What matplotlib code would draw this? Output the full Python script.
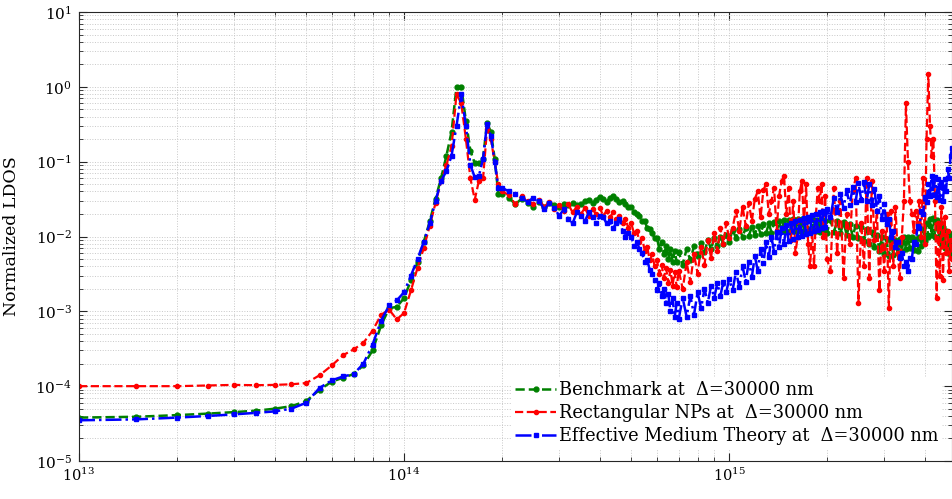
import matplotlib
matplotlib.use("Agg")
import matplotlib.pyplot as plt
import numpy as np

plt.rcParams['font.family'] = ['DejaVu Serif']
plt.rcParams['mathtext.fontset'] = 'custom'
plt.rcParams['mathtext.rm'] = 'DejaVu Serif'

# ---------------- data (frequency [rad/s], normalized LDOS) ----------------
freq_a = [1.0e13, 1.5e13, 2.0e13, 2.5e13, 3.0e13, 3.5e13, 4.0e13, 4.5e13, 5.0e13, 5.5e13,
          6.0e13, 6.5e13, 7.0e13, 7.5e13, 8.0e13, 8.5e13, 9.0e13, 9.5e13, 1.0e14, 1.05e14,
          1.1e14, 1.15e14, 1.2e14, 1.25e14, 1.3e14, 1.35e14, 1.4e14, 1.45e14, 1.5e14, 1.55e14,
          1.6e14, 1.65e14, 1.7e14, 1.75e14, 1.8e14, 1.85e14, 1.9e14, 1.95e14, 2.0e14]
bench_a = [3.8e-5, 3.9e-5, 4.1e-5, 4.3e-5, 4.5e-5, 4.7e-5, 5.0e-5, 5.4e-5, 6.3e-5, 9.0e-5,
           1.15e-4, 1.3e-4, 1.45e-4, 1.9e-4, 3.0e-4, 6.5e-4, 1.1e-3, 1.15e-3, 1.5e-3, 2.6e-3,
           4.5e-3, 8.5e-3, 1.6e-2, 3.2e-2, 6.0e-2, 0.12, 0.25, 1.0, 1.0, 0.35,
           0.14, 0.095, 0.095, 0.11, 0.33, 0.25, 0.11, 0.037, 0.037]
rect_a = [1.0e-4, 1.0e-4, 1.0e-4, 1.02e-4, 1.04e-4, 1.03e-4, 1.04e-4, 1.06e-4, 1.1e-4, 1.4e-4,
          1.9e-4, 2.6e-4, 3.1e-4, 3.8e-4, 5.5e-4, 9.0e-4, 1.05e-3, 7.8e-4, 9.5e-4, 1.9e-3,
          3.8e-3, 7.0e-3, 1.4e-2, 2.8e-2, 5.5e-2, 9.0e-2, 0.16, 0.8, 0.6, 0.2,
          0.06, 0.031, 0.056, 0.06, 0.27, 0.2, 0.1, 0.05, 0.04]
emt_a = [3.5e-5, 3.6e-5, 3.8e-5, 4.0e-5, 4.2e-5, 4.4e-5, 4.6e-5, 5.0e-5, 6.0e-5, 9.5e-5,
         1.2e-4, 1.35e-4, 1.45e-4, 2.0e-4, 3.6e-4, 7.5e-4, 1.2e-3, 1.4e-3, 1.8e-3, 3.0e-3,
         5.0e-3, 8.5e-3, 1.5e-2, 3.0e-2, 5.5e-2, 7.5e-2, 0.12, 0.3, 0.8, 0.3,
         0.09, 0.062, 0.065, 0.11, 0.32, 0.22, 0.1, 0.045, 0.045]

freq_b = [2.1e14, 2.2e14, 2.3e14, 2.4e14, 2.5e14, 2.6e14, 2.7e14, 2.8e14, 2.9e14, 3.0e14,
          3.1e14, 3.2e14, 3.3e14, 3.4e14, 3.5e14, 3.6e14, 3.7e14, 3.8e14, 3.9e14, 4.0e14,
          4.1e14, 4.2e14, 4.3e14, 4.4e14, 4.5e14, 4.6e14, 4.7e14, 4.8e14, 4.9e14, 5.0e14,
          5.1e14, 5.2e14, 5.3e14, 5.4e14, 5.5e14, 5.6e14, 5.7e14, 5.8e14, 5.9e14, 6.0e14,
          6.1e14, 6.2e14, 6.3e14, 6.4e14, 6.5e14, 6.6e14, 6.7e14, 6.8e14, 6.9e14, 7.0e14]
bench_b = [0.033, 0.027, 0.032, 0.028, 0.025, 0.029, 0.025, 0.028, 0.026, 0.025,
           0.027, 0.026, 0.028, 0.026, 0.027, 0.030, 0.031, 0.028, 0.031, 0.034,
           0.032, 0.029, 0.033, 0.035, 0.032, 0.029, 0.030, 0.027, 0.025, 0.025,
           0.021, 0.020, 0.019, 0.016, 0.016, 0.013, 0.0125, 0.011, 0.0095, 0.0095,
           0.0068, 0.0085, 0.0058, 0.0075, 0.0050, 0.0068, 0.0046, 0.0065, 0.0045, 0.0062]
rect_b = [0.036, 0.027, 0.035, 0.030, 0.027, 0.031, 0.025, 0.029, 0.023, 0.026,
          0.022, 0.027, 0.021, 0.025, 0.020, 0.024, 0.019, 0.023, 0.020, 0.024,
          0.019, 0.022, 0.018, 0.021, 0.017, 0.019, 0.015, 0.017, 0.013, 0.015,
          0.011, 0.012, 0.0085, 0.0095, 0.0065, 0.0072, 0.0048, 0.0058, 0.0040, 0.0048,
          0.0032, 0.0042, 0.0028, 0.0038, 0.0024, 0.0036, 0.0022, 0.0034, 0.0021, 0.0035]
emt_b = [0.040, 0.037, 0.033, 0.029, 0.033, 0.030, 0.023, 0.028, 0.024, 0.019,
         0.023, 0.017, 0.015, 0.021, 0.019, 0.016, 0.021, 0.018, 0.015, 0.019,
         0.018, 0.015, 0.016, 0.013, 0.015, 0.017, 0.012, 0.010, 0.011, 0.010,
         0.0075, 0.0085, 0.0068, 0.0060, 0.0045, 0.0048, 0.0036, 0.0032, 0.0026, 0.0019,
         0.0024, 0.0016, 0.0020, 0.0013, 0.0017, 0.0010, 0.0015, 0.00085, 0.0013, 0.0008]

freq_c = [7.2e14, 7.4e14, 7.6e14, 7.8e14, 8.0e14, 8.2e14, 8.4e14, 8.6e14, 8.8e14, 9.0e14,
          9.2e14, 9.4e14, 9.6e14, 9.8e14, 1.0e15]
bench_c = [0.0042, 0.0068, 0.0048, 0.0075, 0.0055, 0.0082, 0.0062, 0.0090, 0.0068, 0.0095,
           0.0075, 0.0100, 0.0080, 0.0105, 0.0085]
rect_c = [0.0020, 0.0045, 0.0025, 0.0058, 0.0032, 0.0072, 0.0042, 0.0090, 0.0052, 0.011,
          0.0065, 0.013, 0.0080, 0.015, 0.0095]
emt_c = [0.0015, 0.00085, 0.0016, 0.0009, 0.0018, 0.0011, 0.0020, 0.0013, 0.0022, 0.0015,
         0.0024, 0.0016, 0.0025, 0.0018, 0.0027]

freq_d = [1.025e15, 1.05e15, 1.075e15, 1.1e15, 1.125e15, 1.15e15, 1.175e15, 1.2e15, 1.225e15, 1.25e15,
          1.275e15, 1.3e15, 1.325e15, 1.35e15, 1.375e15, 1.4e15, 1.425e15, 1.45e15, 1.475e15, 1.5e15,
          1.525e15, 1.55e15, 1.575e15, 1.6e15, 1.625e15, 1.65e15, 1.675e15, 1.7e15, 1.725e15, 1.75e15,
          1.775e15, 1.8e15, 1.825e15, 1.85e15, 1.875e15, 1.9e15, 1.925e15, 1.95e15, 1.975e15, 2.0e15]
bench_d = [0.0122, 0.0096, 0.0126, 0.0100, 0.0130, 0.0103, 0.0134, 0.0106, 0.0139, 0.0109,
           0.0145, 0.0111, 0.0150, 0.0113, 0.0155, 0.0115, 0.0160, 0.0117, 0.0164, 0.0118,
           0.0168, 0.0119, 0.0171, 0.0120, 0.0172, 0.0120, 0.0172, 0.0120, 0.0171, 0.0119,
           0.0170, 0.0118, 0.0168, 0.0117, 0.0166, 0.0116, 0.0164, 0.0114, 0.0162, 0.0112]
rect_d = [0.013, 0.022, 0.012, 0.025, 0.014, 0.028, 0.016, 0.032, 0.040, 0.018,
          0.042, 0.050, 0.020, 0.030, 0.045, 0.012, 0.035, 0.055, 0.065, 0.020,
          0.045, 0.009, 0.030, 0.006, 0.010, 0.040, 0.055, 0.015, 0.050, 0.008,
          0.004, 0.012, 0.004, 0.020, 0.045, 0.030, 0.050, 0.010, 0.035, 0.005]
emt_d = [0.0019, 0.0034, 0.0021, 0.0040, 0.0025, 0.0046, 0.0029, 0.0055, 0.0035, 0.0068,
         0.0044, 0.0084, 0.0053, 0.0099, 0.0062, 0.0114, 0.0072, 0.0129, 0.0079, 0.0141,
         0.0086, 0.0151, 0.0092, 0.0160, 0.0098, 0.0167, 0.0103, 0.0176, 0.0107, 0.0184,
         0.0113, 0.0193, 0.0118, 0.0201, 0.0123, 0.0211, 0.0129, 0.0220, 0.0136, 0.0231]

freq_e = [2.05e15, 2.1e15, 2.15e15, 2.2e15, 2.25e15, 2.3e15, 2.35e15, 2.4e15, 2.45e15, 2.5e15,
          2.55e15, 2.6e15, 2.65e15, 2.7e15, 2.75e15, 2.8e15, 2.85e15, 2.9e15, 2.95e15, 3.0e15,
          3.05e15, 3.1e15, 3.15e15, 3.2e15, 3.25e15, 3.3e15, 3.35e15, 3.4e15, 3.45e15, 3.5e15,
          3.55e15, 3.6e15, 3.65e15, 3.7e15, 3.75e15, 3.8e15, 3.85e15, 3.9e15, 3.95e15, 4.0e15,
          4.05e15, 4.1e15, 4.15e15, 4.2e15, 4.25e15, 4.3e15, 4.35e15, 4.4e15, 4.45e15, 4.5e15,
          4.55e15, 4.6e15, 4.65e15, 4.7e15, 4.75e15, 4.8e15, 4.85e15]
bench_e = [0.0165, 0.0115, 0.0160, 0.0110, 0.0155, 0.0105, 0.0148, 0.0100, 0.0140, 0.0095,
           0.0132, 0.0088, 0.0125, 0.0080, 0.0115, 0.0072, 0.0105, 0.0064, 0.0098, 0.0058,
           0.0092, 0.0055, 0.0088, 0.0056, 0.0090, 0.0060, 0.0093, 0.0065, 0.0098, 0.0068,
           0.0100, 0.0070, 0.0098, 0.0066, 0.0092, 0.0064, 0.0100, 0.0075, 0.0125, 0.0088,
           0.0150, 0.0100, 0.0170, 0.0105, 0.0175, 0.0100, 0.0165, 0.0092, 0.0150, 0.0080,
           0.0135, 0.0070, 0.0120, 0.0060, 0.0110, 0.0055, 0.0100]
rect_e = [0.0035, 0.045, 0.006, 0.030, 0.0028, 0.020, 0.008, 0.040, 0.060, 0.0013,
          0.015, 0.004, 0.060, 0.0028, 0.055, 0.009, 0.022, 0.0019, 0.012, 0.0035,
          0.020, 0.0011, 0.022, 0.004, 0.025, 0.006, 0.0028, 0.010, 0.030, 0.60,
          0.10, 0.030, 0.020, 0.012, 0.022, 0.015, 0.030, 0.010, 0.060, 0.008,
          0.20, 1.50, 0.30, 0.12, 0.20, 0.030, 0.0015, 0.015, 0.003, 0.025,
          0.0026, 0.018, 0.006, 0.012, 0.0035, 0.009, 0.005]
emt_e = [0.018, 0.033, 0.021, 0.037, 0.024, 0.042, 0.026, 0.046, 0.029, 0.052,
         0.031, 0.053, 0.030, 0.050, 0.026, 0.043, 0.022, 0.035, 0.017, 0.027,
         0.0145, 0.017, 0.0100, 0.0120, 0.0072, 0.0085, 0.0052, 0.0060, 0.0040, 0.0046,
         0.0035, 0.0052, 0.0050, 0.0085, 0.0080, 0.014, 0.013, 0.022, 0.020, 0.034,
         0.029, 0.050, 0.035, 0.065, 0.036, 0.063, 0.034, 0.058, 0.031, 0.053,
         0.030, 0.058, 0.040, 0.080, 0.060, 0.120, 0.150]

freq = freq_a + freq_b + freq_c + freq_d + freq_e
ldos_benchmark = bench_a + bench_b + bench_c + bench_d + bench_e
ldos_rect = rect_a + rect_b + rect_c + rect_d + rect_e
ldos_emt = emt_a + emt_b + emt_c + emt_d + emt_e

labels = ['Benchmark at  \u0394=30000 nm',
          'Rectangular NPs at  \u0394=30000 nm',
          'Effective Medium Theory at  \u0394=30000 nm']

# ---------------- figure ----------------
W, H = 953, 499
fig = plt.figure(figsize=(W / 100, H / 100), dpi=100)
ax = fig.add_axes([79 / W, 1 - 461 / H, (952 - 79) / W, (461 - 12) / H])

ax.plot(freq, ldos_benchmark, color='#008000', ls='--', lw=1.8, marker='.', ms=7, label=labels[0])
ax.plot(freq, ldos_rect, color='#ff0000', ls='--', lw=1.6, marker='.', ms=6, label=labels[1])
ax.plot(freq, ldos_emt, color='#0000ff', ls='-.', lw=1.8, marker='s', ms=3.5, label=labels[2])

ax.set_xscale('log')
ax.set_yscale('log')
ax.set_xlim(1e13, 4.85e15)
ax.set_ylim(1e-5, 1e1)

ax.grid(True, which='both', linestyle=':', color='#c8c8c8', linewidth=0.7)
ax.set_axisbelow(True)

ax.tick_params(which='both', direction='in', top=True, right=True, colors='#262626',
               labelcolor='black', labelsize=11)
ax.tick_params(which='major', length=6, width=0.8)
ax.tick_params(which='minor', length=3, width=0.6)
ax.tick_params(axis='x', pad=4, labelsize=10.5)
ax.tick_params(axis='y', pad=5)
for s in ax.spines.values():
    s.set_color('#262626')
    s.set_linewidth(0.8)

ax.set_ylabel('Normalized LDOS', fontsize=12.5)
ax.yaxis.set_label_coords((20 - 79) / (952 - 79), 0.5)

leg = ax.legend(loc='lower right', bbox_to_anchor=(0.989, 0.027), fontsize=12.8,
                frameon=True, fancybox=False, edgecolor='none', facecolor='white', framealpha=1,
                handlelength=2.35, handletextpad=0.17, labelspacing=0.28, borderpad=0.2,
                numpoints=1, borderaxespad=0)

fig.savefig('out.png', dpi=100)
